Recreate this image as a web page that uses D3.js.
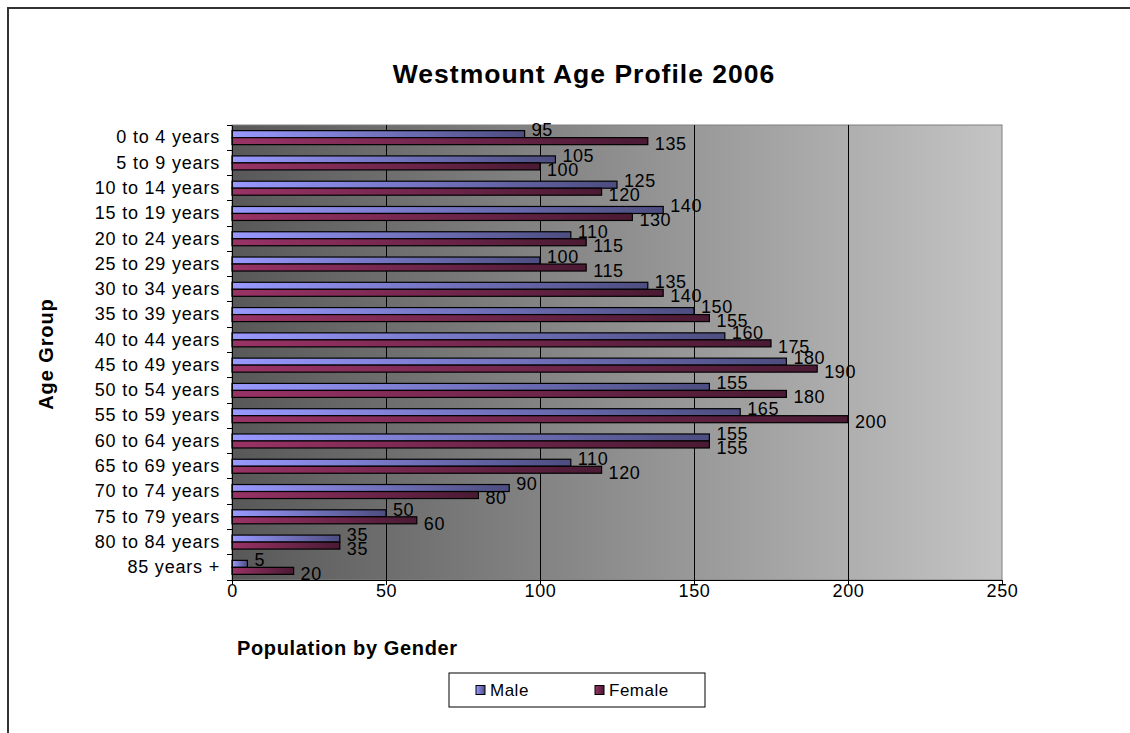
<!DOCTYPE html>
<html><head><meta charset="utf-8">
<script src="https://cdn.jsdelivr.net/npm/d3@7"></script>
<style>body{margin:0;background:#fff}svg{display:block;font-family:"Liberation Sans",Arial,sans-serif}</style>
</head><body><svg id="c" width="1130" height="733"></svg>
<script>
const categories = ["0 to 4 years","5 to 9 years","10 to 14 years","15 to 19 years","20 to 24 years","25 to 29 years","30 to 34 years","35 to 39 years","40 to 44 years","45 to 49 years","50 to 54 years","55 to 59 years","60 to 64 years","65 to 69 years","70 to 74 years","75 to 79 years","80 to 84 years","85 years +"];
const male = [95,105,125,140,110,100,135,150,160,180,155,165,155,110,90,50,35,5];
const female = [135,100,120,130,115,115,140,155,175,190,180,200,155,120,80,60,35,20];
const seriesNames = ["Male","Female"];
const xTicks = [0,50,100,150,200,250];

const svg = d3.select("#c");
const L = 232, R = 1002, T = 125, B = 580;
const FONT = "Liberation Sans, Arial, sans-serif";

const defs = svg.append("defs");
const bg = defs.append("linearGradient").attr("id","bg").attr("x1","0").attr("x2","1").attr("y1","0").attr("y2","0");
bg.append("stop").attr("offset","0").attr("stop-color","#585858");
bg.append("stop").attr("offset","1").attr("stop-color","#c4c4c4");
const colors = {Male:["#9999ff","#4d4d80"], Female:["#993366","#4a1a33"]};
seriesNames.forEach(s=>{
  const g = defs.append("linearGradient").attr("id","g"+s).attr("x1","0").attr("x2","1").attr("y1","0").attr("y2","0");
  g.append("stop").attr("offset","0").attr("stop-color",colors[s][0]);
  g.append("stop").attr("offset","1").attr("stop-color",colors[s][1]);
});

// outer chart border
svg.append("rect").attr("x",8).attr("y",8).attr("width",1200).attr("height",800)
  .attr("fill","none").attr("stroke","#333").attr("stroke-width",2);

const x = d3.scaleLinear().domain([0,250]).range([L,R]);
const y = d3.scaleBand().domain(categories).range([T,B]).paddingInner(0.446).paddingOuter(0.223);
const y1 = d3.scaleBand().domain(seriesNames).range([0,y.bandwidth()]);

// plot area
svg.append("rect").attr("x",L).attr("y",T).attr("width",R-L).attr("height",B-T)
  .attr("fill","url(#bg)").attr("stroke","#808080").attr("stroke-width",1);

// gridlines
svg.append("g").selectAll("line").data(xTicks.slice(1,-1)).join("line")
  .attr("x1",d=>x(d)).attr("x2",d=>x(d)).attr("y1",T).attr("y2",B)
  .attr("stroke","#000").attr("stroke-width",1).attr("shape-rendering","crispEdges");

// bars
const rows = categories.map((c,i)=>[{s:"Male",v:male[i],c},{s:"Female",v:female[i],c}]);
const groups = svg.append("g").selectAll("g").data(rows).join("g")
  .attr("transform",d=>`translate(0,${y(d[0].c)})`);
groups.selectAll("rect").data(d=>d).join("rect")
  .attr("x",x(0)).attr("y",d=>y1(d.s)).attr("width",d=>x(d.v)-x(0)).attr("height",y1.bandwidth())
  .attr("fill",d=>"url(#g"+d.s+")").attr("stroke","#000").attr("stroke-width",1.2);
groups.selectAll("text").data(d=>d).join("text")
  .attr("x",d=>x(d.v)+7).attr("y",d=>y1(d.s)+y1.bandwidth()/2 + (d.s==="Male"?-4:3))
  .attr("dy","0.35em").attr("font-size",18).attr("letter-spacing",0.6).attr("fill","#000").text(d=>d.v);

// x axis
const xAxis = d3.axisBottom(x).tickValues(xTicks).tickSize(5).tickPadding(6);
const gx = svg.append("g").attr("transform",`translate(0,${B})`).call(xAxis);
gx.select(".domain").attr("stroke","#000");
gx.selectAll("text").attr("font-size",18).attr("letter-spacing",0.6).attr("font-family",FONT).attr("y",11).attr("dy","0.35em");

// y axis
const yAxis = d3.axisLeft(y).tickSize(0).tickPadding(12);
const gy = svg.append("g").attr("transform",`translate(${L},0)`).call(yAxis);
gy.select(".domain").attr("stroke","#000");
gy.selectAll("text").attr("font-size",18).attr("letter-spacing",0.8).attr("font-family",FONT);
const step = y.step();
svg.append("g").selectAll("line").data(d3.range(categories.length+1)).join("line")
  .attr("x1",L-5).attr("x2",L).attr("y1",d=>T+d*step).attr("y2",d=>T+d*step)
  .attr("stroke","#000").attr("shape-rendering","crispEdges");

// titles
svg.append("text").attr("x",584).attr("y",83).attr("text-anchor","middle")
  .attr("font-size",26.5).attr("letter-spacing",1.0).attr("font-weight","bold").text("Westmount Age Profile 2006");
svg.append("text").attr("transform","translate(53,354) rotate(-90)").attr("text-anchor","middle")
  .attr("font-size",20).attr("letter-spacing",0.9).attr("font-weight","bold").text("Age Group");
svg.append("text").attr("x",237).attr("y",655)
  .attr("font-size",20).attr("letter-spacing",0.65).attr("font-weight","bold").text("Population by Gender");

// legend
const lg = svg.append("g");
lg.append("rect").attr("x",449).attr("y",673).attr("width",256).attr("height",34)
  .attr("fill","#fff").attr("stroke","#000");
const li = lg.selectAll("g").data(seriesNames).join("g")
  .attr("transform",(d,i)=>`translate(${i===0?476:595},690)`);
li.append("rect").attr("x",0).attr("y",-4.5).attr("width",9).attr("height",9)
  .attr("fill",d=>"url(#g"+d+")").attr("stroke","#000");
li.append("text").attr("x",14).attr("dy","0.35em").attr("font-size",17).attr("letter-spacing",0.5).text(d=>d);
</script></body></html>
